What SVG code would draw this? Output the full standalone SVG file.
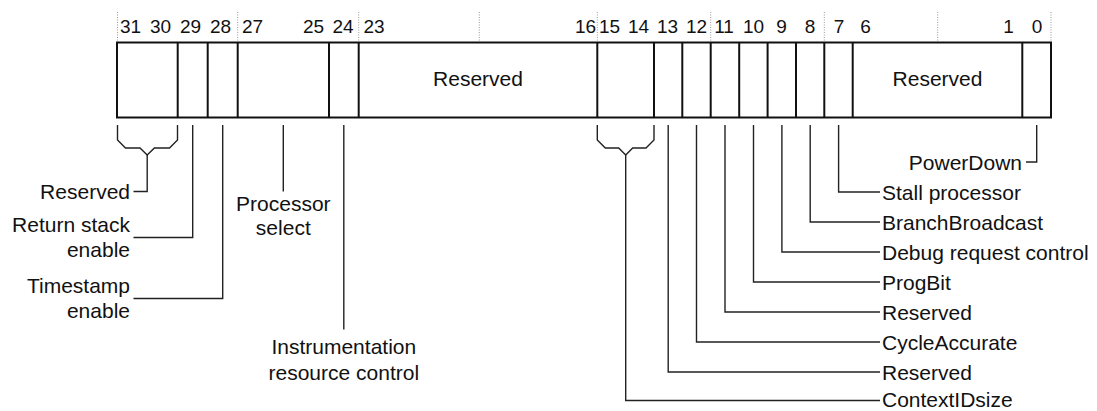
<svg xmlns="http://www.w3.org/2000/svg" width="1097" height="411" viewBox="0 0 1097 411">
<style>
text{font-family:"Liberation Sans",Arial,sans-serif;fill:#111}
.lbl{font-size:21px}
.num{font-size:19px;text-anchor:middle}
.mid{text-anchor:middle}
.end{text-anchor:end}
.box{fill:#fff;stroke:#111;stroke-width:2}
.div{stroke:#111;stroke-width:2}
.grid{stroke:#999;stroke-width:1;stroke-dasharray:1 1.5}
.con{fill:none;stroke:#222;stroke-width:1.4}
</style>
<rect width="1097" height="411" fill="#fff"/>
<g id="register">
  <g id="gridlines">
    <line class="grid" x1="117.5" y1="12" x2="117.5" y2="42"/>
    <line class="grid" x1="237.7" y1="12" x2="237.7" y2="42"/>
    <line class="grid" x1="358.7" y1="12" x2="358.7" y2="42"/>
    <line class="grid" x1="479.3" y1="12" x2="479.3" y2="42"/>
    <line class="grid" x1="597.3" y1="12" x2="597.3" y2="42"/>
    <line class="grid" x1="710.7" y1="12" x2="710.7" y2="42"/>
    <line class="grid" x1="824.3" y1="12" x2="824.3" y2="42"/>
    <line class="grid" x1="937.7" y1="12" x2="937.7" y2="42"/>
    <line class="grid" x1="1051" y1="12" x2="1051" y2="42"/>
  </g>
  <g id="bitnumbers">
    <text class="num" x="130.5" y="33">31</text>
    <text class="num" x="160.5" y="33">30</text>
    <text class="num" x="190.5" y="33">29</text>
    <text class="num" x="220.5" y="33">28</text>
    <text class="num" x="252.5" y="33">27</text>
    <text class="num" x="313.5" y="33">25</text>
    <text class="num" x="343" y="33">24</text>
    <text class="num" x="374" y="33">23</text>
    <text class="num" x="585.5" y="33">16</text>
    <text class="num" x="609.5" y="33">15</text>
    <text class="num" x="638.5" y="33">14</text>
    <text class="num" x="667.5" y="33">13</text>
    <text class="num" x="696.5" y="33">12</text>
    <text class="num" x="724" y="33">11</text>
    <text class="num" x="753.5" y="33">10</text>
    <text class="num" x="781.5" y="33">9</text>
    <text class="num" x="810" y="33">8</text>
    <text class="num" x="839" y="33">7</text>
    <text class="num" x="865.5" y="33">6</text>
    <text class="num" x="1008.5" y="33">1</text>
    <text class="num" x="1037" y="33">0</text>
  </g>
  <rect class="box" x="117" y="42.5" width="934" height="75"/>
  <g id="dividers">
    <line class="div" x1="177.7" y1="42.5" x2="177.7" y2="117.5"/>
    <line class="div" x1="207.7" y1="42.5" x2="207.7" y2="117.5"/>
    <line class="div" x1="237.7" y1="42.5" x2="237.7" y2="117.5"/>
    <line class="div" x1="329" y1="42.5" x2="329" y2="117.5"/>
    <line class="div" x1="358.7" y1="42.5" x2="358.7" y2="117.5"/>
    <line class="div" x1="597.3" y1="42.5" x2="597.3" y2="117.5"/>
    <line class="div" x1="654" y1="42.5" x2="654" y2="117.5"/>
    <line class="div" x1="682.3" y1="42.5" x2="682.3" y2="117.5"/>
    <line class="div" x1="710.7" y1="42.5" x2="710.7" y2="117.5"/>
    <line class="div" x1="739.2" y1="42.5" x2="739.2" y2="117.5"/>
    <line class="div" x1="767.6" y1="42.5" x2="767.6" y2="117.5"/>
    <line class="div" x1="796" y1="42.5" x2="796" y2="117.5"/>
    <line class="div" x1="824.3" y1="42.5" x2="824.3" y2="117.5"/>
    <line class="div" x1="852.7" y1="42.5" x2="852.7" y2="117.5"/>
    <line class="div" x1="1022.3" y1="42.5" x2="1022.3" y2="117.5"/>
  </g>
  <text class="lbl mid" x="478" y="86">Reserved</text>
  <text class="lbl mid" x="937.5" y="86">Reserved</text>
</g>
<g id="connectors">
  <path class="con" d="M117.5,125 V140 L125.5,148 H140 L147.2,155 L154.4,148 H169.5 L177.5,140 V125"/>
  <path class="con" d="M147.2,155 V191.5 H133.5"/>
  <path class="con" d="M192.7,125 V237.5 H133.5"/>
  <path class="con" d="M222.7,125 V298.5 H133.5"/>
  <path class="con" d="M283.3,125 V191.5"/>
  <path class="con" d="M343.8,125 V329.5"/>
  <path class="con" d="M597.3,125 V140 L605.3,148 H618.7 L625.7,155 L632.7,148 H646 L654,140 V125"/>
  <path class="con" d="M625.7,155 V400.5 H880"/>
  <path class="con" d="M668.2,125 V372 H880"/>
  <path class="con" d="M696.5,125 V342 H880"/>
  <path class="con" d="M725,125 V312 H880"/>
  <path class="con" d="M753.5,125 V282 H880"/>
  <path class="con" d="M781.9,125 V252 H880"/>
  <path class="con" d="M810.2,125 V222 H880"/>
  <path class="con" d="M838.6,125 V192 H880"/>
  <path class="con" d="M1036.7,125 V162 H1026"/>
</g>
<g id="label-reserved-31-30"><text class="lbl end" x="130" y="199">Reserved</text></g>
<g id="label-return-stack"><text class="lbl end" x="130" y="232">Return stack</text><text class="lbl end" x="130" y="257">enable</text></g>
<g id="label-timestamp"><text class="lbl end" x="130" y="293">Timestamp</text><text class="lbl end" x="130" y="318">enable</text></g>
<g id="label-processor-select"><text class="lbl mid" x="283.3" y="210.5">Processor</text><text class="lbl mid" x="283.3" y="235">select</text></g>
<g id="label-instrumentation"><text class="lbl mid" x="343.8" y="354">Instrumentation</text><text class="lbl mid" x="343.8" y="379.5">resource control</text></g>
<g id="label-powerdown"><text class="lbl end" x="1022" y="169.5">PowerDown</text></g>
<g id="label-stall"><text class="lbl" x="882" y="199.5">Stall processor</text></g>
<g id="label-branchbroadcast"><text class="lbl" x="882" y="229.5">BranchBroadcast</text></g>
<g id="label-debug"><text class="lbl" x="882" y="259.5">Debug request control</text></g>
<g id="label-progbit"><text class="lbl" x="882" y="289.5">ProgBit</text></g>
<g id="label-reserved-11"><text class="lbl" x="882" y="319.5">Reserved</text></g>
<g id="label-cycleaccurate"><text class="lbl" x="882" y="349.5">CycleAccurate</text></g>
<g id="label-reserved-13"><text class="lbl" x="882" y="379.5">Reserved</text></g>
<g id="label-contextidsize"><text class="lbl" x="882" y="406.5">ContextIDsize</text></g>
</svg>
